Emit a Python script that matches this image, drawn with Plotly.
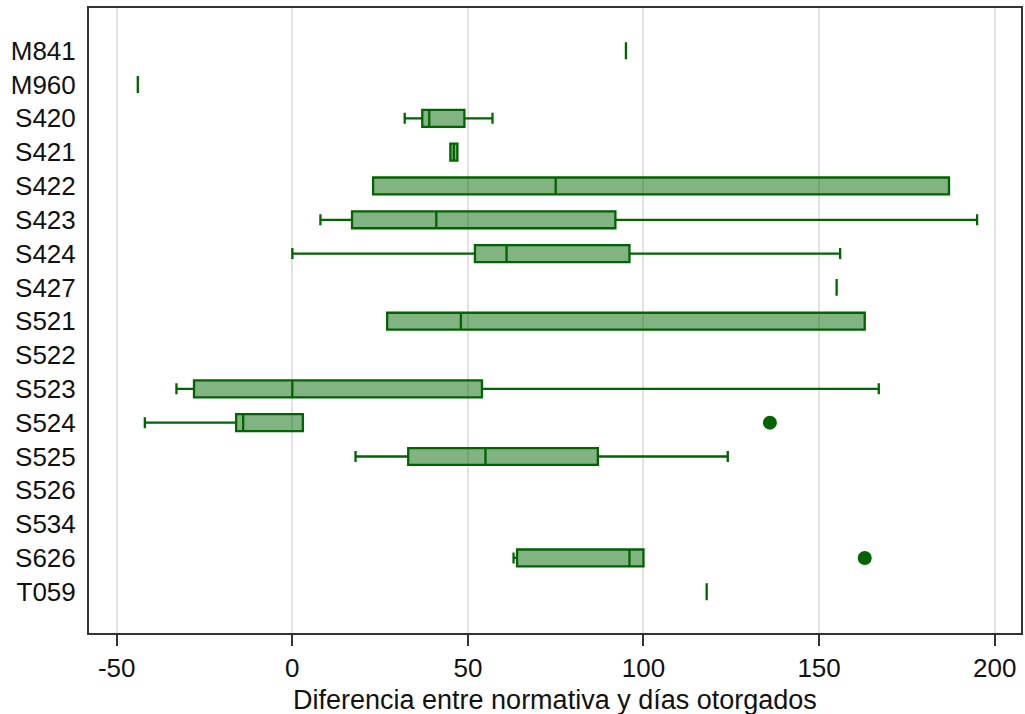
import plotly.graph_objects as go

categories = ["M841", "M960", "S420", "S421", "S422", "S423", "S424", "S427", "S521",
              "S522", "S523", "S524", "S525", "S526", "S534", "S626", "T059"]
lowerfence = [95, -44, 32, 45, 23, 8, 0, 155, 27, None, -33, -42, 18, None, None, 63, 118]
q1 =         [95, -44, 37, 45, 23, 17, 52, 155, 27, None, -28, -16, 33, None, None, 64, 118]
median =     [95, -44, 39, 46, 75, 41, 61, 155, 48, None, 0, -14, 55, None, None, 96, 118]
q3 =         [95, -44, 49, 47, 187, 92, 96, 155, 163, None, 54, 3, 87, None, None, 100, 118]
upperfence = [95, -44, 57, 47, 187, 195, 156, 155, 163, None, 167, 3, 124, None, None, 100, 118]
outlier_cat = ["S524", "S626"]
outlier_val = [136, 163]
x_ticks = [-50, 0, 50, 100, 150, 200]
x_title = "Diferencia entre normativa y días otorgados"

GREEN = "#006400"
FILL = "rgba(0,100,0,0.49)"
FONT = "Liberation Sans, Arial, sans-serif"

pos = {c: i for i, c in enumerate(categories)}
idx = [i for i, v in enumerate(median) if v is not None]

fig = go.Figure()
fig.add_trace(go.Box(
    orientation="h",
    y=[pos[categories[i]] for i in idx],
    q1=[q1[i] for i in idx],
    median=[median[i] for i in idx],
    q3=[q3[i] for i in idx],
    lowerfence=[lowerfence[i] for i in idx],
    upperfence=[upperfence[i] for i in idx],
    width=0.5,
    whiskerwidth=0.65,
    line=dict(color=GREEN, width=2.3),
    fillcolor=FILL,
    boxpoints=False,
    showlegend=False,
    hoverinfo="skip",
))
fig.add_trace(go.Scatter(
    x=outlier_val,
    y=[pos[c] for c in outlier_cat],
    mode="markers",
    marker=dict(color=GREEN, size=14),
    showlegend=False,
    hoverinfo="skip",
))

fig.update_layout(
    width=1025, height=714,
    margin=dict(l=89, r=2, t=8, b=81),
    paper_bgcolor="white",
    plot_bgcolor="white",
    font=dict(family=FONT, size=26, color="#111111"),
    annotations=[dict(
        text=x_title, xref="paper", yref="paper", x=0.5, y=-0.107,
        xanchor="center", yanchor="middle", showarrow=False,
        font=dict(size=27, color="#111111"),
    )],
)
fig.update_xaxes(
    range=[-57.9, 207.5],
    tickvals=x_ticks,
    ticktext=[str(v) for v in x_ticks],
    showgrid=True, gridcolor="#e2e2e2", gridwidth=1.5,
    zeroline=False,
    showline=True, linecolor="#333333", linewidth=2, mirror=True,
    ticks="outside", ticklen=11, tickwidth=1.5, tickcolor="#333333",
    tickfont=dict(size=26),
)
fig.update_yaxes(
    range=[17.22, -1.263],
    tickvals=list(range(len(categories))),
    ticktext=categories,
    showgrid=False,
    zeroline=False,
    showline=True, linecolor="#333333", linewidth=2, mirror=True,
    ticks="", ticklabelstandoff=6,
    tickfont=dict(size=26),
)

fig.write_html("out.html")
